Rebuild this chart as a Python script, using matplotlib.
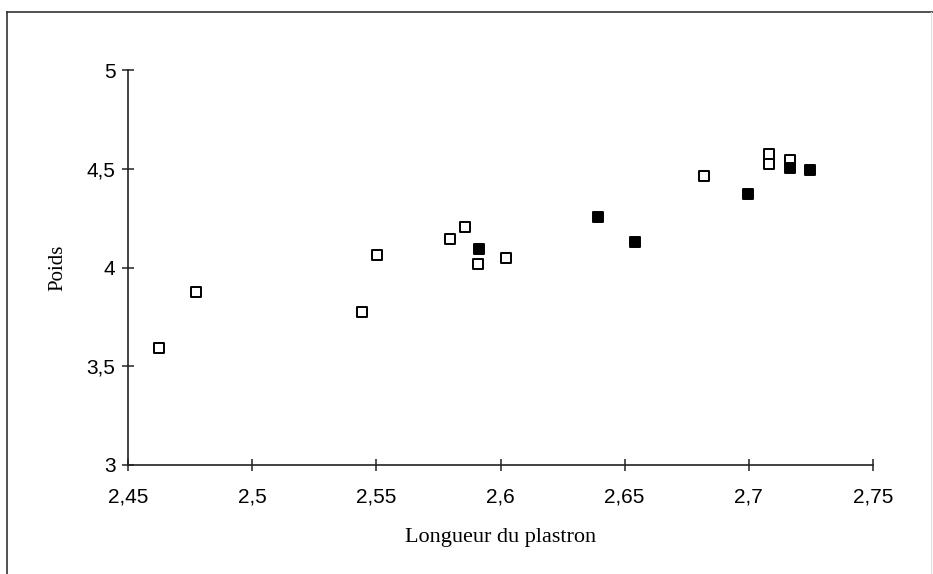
import matplotlib
matplotlib.use("Agg")
import matplotlib.pyplot as plt
from matplotlib.lines import Line2D
from matplotlib.ticker import FuncFormatter

# open squares
x_open = [2.4626, 2.4774, 2.5442, 2.5501, 2.5797, 2.5859, 2.5910, 2.6024,
          2.6820, 2.7080, 2.7080, 2.7165]
y_open = [3.590, 3.878, 3.777, 4.064, 4.146, 4.205, 4.019, 4.046,
          4.462, 4.575, 4.524, 4.543]

# filled squares
x_fill = [2.5913, 2.6393, 2.6541, 2.6995, 2.7165, 2.7246]
y_fill = [4.096, 4.255, 4.127, 4.372, 4.504, 4.494]

xticks = [2.45, 2.5, 2.55, 2.6, 2.65, 2.7, 2.75]
yticks = [3, 3.5, 4, 4.5, 5]

fig = plt.figure(figsize=(9.33, 5.74), dpi=100)
ax = fig.add_axes([128 / 933, 1 - 465 / 574, 745 / 933, 395 / 574])

ax.scatter(x_open, y_open, marker='s', s=50, facecolors='white',
           edgecolors='black', linewidths=1.4, zorder=3)
ax.scatter(x_fill, y_fill, marker='s', s=50, facecolors='black',
           edgecolors='black', linewidths=1.4, zorder=4)

ax.set_xlim(2.45, 2.75)
ax.set_ylim(3, 5)
ax.set_xticks(xticks)
ax.set_yticks(yticks)

def comma(v, pos):
    s = ('%.2f' % v).rstrip('0').rstrip('.')
    return s.replace('.', ',')

ax.xaxis.set_major_formatter(FuncFormatter(comma))
ax.yaxis.set_major_formatter(FuncFormatter(comma))

for side in ['top', 'right']:
    ax.spines[side].set_visible(False)
for side in ['left', 'bottom']:
    ax.spines[side].set_linewidth(1.2)
    ax.spines[side].set_color('#222222')

ax.tick_params(direction='inout', length=8, width=1.1, colors='#222222',
               labelcolor='black', labelsize=15)
ax.tick_params(axis='x', pad=12)
ax.tick_params(axis='y', pad=5)
for lab in ax.get_xticklabels() + ax.get_yticklabels():
    lab.set_family('Liberation Sans')

ax.set_xlabel('Longueur du plastron', family='Liberation Serif', fontsize=16,
              labelpad=16)
ax.set_ylabel('Poids', family='Liberation Serif', fontsize=15, labelpad=14)

# outer frame of the scanned figure
fig.add_artist(Line2D([7 / 933, 1], [1 - 12 / 574, 1 - 12 / 574],
                      transform=fig.transFigure, color='#333333', lw=1.2))
fig.add_artist(Line2D([7 / 933, 7 / 933], [0, 1 - 12 / 574],
                      transform=fig.transFigure, color='#333333', lw=1.2))
fig.add_artist(Line2D([931 / 933, 931 / 933], [0, 1 - 12 / 574],
                      transform=fig.transFigure, color='#dddddd', lw=0.8))

fig.savefig('out.png', dpi=100)
